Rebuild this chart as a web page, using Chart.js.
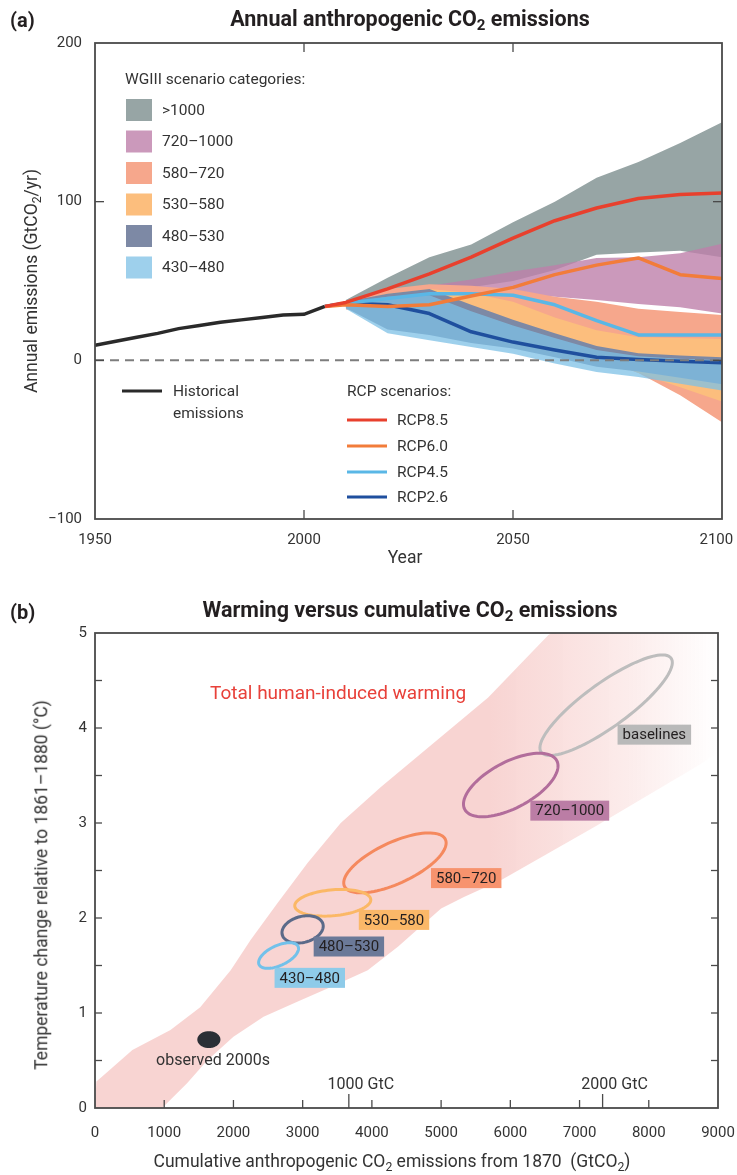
<!DOCTYPE html>
<html><head><meta charset="utf-8">
<script src="https://cdn.jsdelivr.net/npm/chart.js@4.4.1/dist/chart.umd.min.js"></script>
<style>
html,body{margin:0;padding:0;background:#fff;}
#wrap{position:relative;width:737px;height:1175px;overflow:hidden;font-family:Roboto,"Liberation Sans",Arial,sans-serif;color:#231f20;}
canvas{position:absolute;left:0;}
.t{position:absolute;white-space:nowrap;transform:translate(-50%,-50%);line-height:1;}
.title{font-size:21.5px;font-weight:700;}
.panel{font-size:20px;font-weight:700;transform:translate(0,-50%);}
.ax{font-size:17.5px;color:#333;}
.rot{transform:translate(-50%,-50%) rotate(-90deg);}
sub{font-size:70%;vertical-align:-0.28em;line-height:0;}
</style></head>
<body><div id="wrap">
<canvas id="cA" width="737" height="580" style="top:0"></canvas>
<canvas id="cB" width="737" height="585" style="top:590px"></canvas>
<div class="t panel" style="left:10px;top:20px">(a)</div>
<div class="t title" style="left:410px;top:19px">Annual anthropogenic CO<sub>2</sub> emissions</div>
<div class="t ax rot" style="left:32px;top:281px">Annual emissions (GtCO<sub>2</sub>/yr)</div>
<div class="t ax" style="left:405px;top:558px">Year</div>
<div class="t panel" style="left:10px;top:612px">(b)</div>
<div class="t title" style="left:410px;top:610px">Warming versus cumulative CO<sub>2</sub> emissions</div>
<div class="t ax rot" style="left:42px;top:885px">Temperature change relative to 1861–1880 (°C)</div>
<div class="t ax" style="left:392px;top:1162px">Cumulative anthropogenic CO<sub>2</sub> emissions from 1870&nbsp; (GtCO<sub>2</sub>)</div>
</div>
<script>
// ---------------- DATA: panel (a) ----------------
const histYears  = [1950, 1955, 1960, 1965, 1970, 1975, 1980, 1985, 1990, 1995, 2000, 2005];
const histValues = [9.5, 12, 14.5, 17, 20, 22, 24, 25.5, 27, 28.5, 29, 34];

const rcpYears = [2005, 2010, 2020, 2030, 2040, 2050, 2060, 2070, 2080, 2090, 2100];
const rcp85 = [34, 36.5, 45, 54.5, 65, 77, 88, 96, 102, 104.5, 105.5];
const rcp60 = [34, 35, 34, 35, 40.5, 46, 54, 60, 64.5, 54, 51.5];
const rcp45 = [34, 36, 39, 42, 42, 41, 35, 25, 16, 16, 16];
const rcp26 = [34, 36, 35, 29.5, 18, 11.5, 6.5, 2, 0.5, -0.5, -1.5];

const bandYears = [2010, 2020, 2030, 2040, 2050, 2060, 2070, 2080, 2090, 2100];
const catGt1000Upper = [38, 52, 65, 73, 87, 100, 115, 125, 137, 150];
const catGt1000Lower = [35, 38, 42, 46, 50, 57, 66.5, 68, 69, 65];
const cat720Upper = [37, 42, 47, 51, 56, 60, 64.5, 65, 67.5, 73.5];
const cat720Lower = [34, 37, 40, 42, 42, 40, 38, 35.5, 33.5, 29.5];
const cat580Upper = [36, 45, 48, 47, 45, 40, 37, 32.5, 30.5, 28.5];
const cat580Lower = [32, 30, 26, 20, 14, 8, 2, -8, -22, -39];
const cat530Upper = [36, 42, 45, 42.5, 37, 27, 19, 14.5, 14, 13.5];
const cat530Lower = [33, 30, 26, 20, 13, 7, 2, -8, -17, -26];
const cat480Upper = [37, 42, 45, 35, 25.5, 17, 9, 4.5, 3, 2];
const cat480Lower = [33, 19.5, 16, 11, 7.5, 2, -4, -7, -11, -15];
const cat430Upper = [36, 40, 41, 31, 22, 14, 6.5, 2.5, 1, 0];
const cat430Lower = [32.5, 17, 12.6, 8.4, 4.2, -2, -7.3, -10.5, -14.7, -19];

const categoryLabels = ['>1000', '720–1000', '580–720', '530–580', '480–530', '430–480'];
const rcpLabels = ['RCP8.5', 'RCP6.0', 'RCP4.5', 'RCP2.6'];

// ---------------- DATA: panel (b) ----------------
const plumeX = [0, 20, 100, 540, 1090, 1520, 1960, 2250, 2640, 3070, 3550, 4130, 5680, 6550, 6600, 9000, 9000, 8770, 7220, 5870, 5330, 5000, 4380, 3940, 3400, 2930, 2435, 2000, 1620, 1330, 970, 0];
const plumeY = [0, 0.28, 0.33, 0.61, 0.82, 1.06, 1.45, 1.77, 2.16, 2.58, 3.0, 3.38, 4.32, 4.98, 5.0, 5.0, 3.75, 3.63, 2.96, 2.4, 2.22, 2.1, 1.7, 1.45, 1.27, 1.12, 0.96, 0.75, 0.5, 0.26, 0, 0];

const ellipseLabels = ['baselines', '720–1000', '580–720', '530–580', '480–530', '430–480'];
const ellipseCX = [7384, 6006, 4333, 3435, 2999, 2652];
const ellipseCY = [4.24, 3.40, 2.58, 2.16, 1.88, 1.605];
const ellipseMajorDX = [938, 665, 729, 549, 294, 282];
const ellipseMajorDY = [0.495, 0.257, 0.247, 0.035, 0.057, 0.096];
const ellipseMinorDX = [187, 156, 126, 16, 49, 61];
const ellipseMinorDY = [-0.187, -0.214, -0.196, -0.136, -0.132, -0.095];
const labelAnchorX = [7549, 6289, 4854, 3811, 3159, 2594];
const labelAnchorY = [3.93, 3.13, 2.42, 1.98, 1.70, 1.37];

const observedX = [1645];
const observedY = [0.72];
const observedHalfX = [167];
const observedHalfY = [0.089];

const gtcTickValues = [3667, 7333];
const gtcTickLabels = ['1000 GtC', '2000 GtC'];

// ---------------- STYLE ----------------
const FONT = 'Roboto, "Liberation Sans", Arial, sans-serif';
Chart.defaults.font.family = FONT;
const TXT = '#333333';
const AXIS = '#4a4a4a';
const catColors = ['rgb(151,165,165)', 'rgba(190,128,170,0.8)', 'rgb(246,167,140)', 'rgb(252,190,125)', 'rgb(125,137,165)', 'rgba(125,192,230,0.75)'];
const rcpColors = ['#e8402d', '#f27c3a', '#5ab7e6', '#1f4f9e'];
const histColor = '#2a2a2a';
const ellipseStroke = ['#bdbdbd', '#b26d9b', '#f5895e', '#fbb866', '#5b6a89', '#72c1ea'];
const ellipseBox = ['#b9b9b9', '#bb7da5', '#f7936e', '#fbb868', '#6b7998', '#8ecbe9'];

const toXY = (xs, ys) => xs.map((x, i) => ({x, y: ys[i]}));

// ---------------- CHART (a) ----------------
const bandSets = [
  [catGt1000Lower, catGt1000Upper],
  [cat720Lower, cat720Upper],
  [cat580Lower, cat580Upper],
  [cat530Lower, cat530Upper],
  [cat480Lower, cat480Upper],
  [cat430Lower, cat430Upper]
];
const dsA = [];
bandSets.forEach((pair, i) => {
  const ord = 100 - i * 10;
  dsA.push({label: categoryLabels[i] + ' low', data: toXY(bandYears, pair[0]), borderWidth: 0, pointRadius: 0, fill: false, order: ord});
  dsA.push({label: categoryLabels[i], data: toXY(bandYears, pair[1]), borderWidth: 0, pointRadius: 0, fill: '-1', backgroundColor: catColors[i], order: ord});
});
dsA.push({label: 'Historical', data: toXY(histYears, histValues), borderColor: histColor, borderWidth: 3.5, pointRadius: 0, fill: false, order: 6});
[rcp26, rcp45, rcp60, rcp85].forEach((arr, k) => {
  const idx = 3 - k;
  dsA.push({label: rcpLabels[idx], data: toXY(rcpYears, arr), borderColor: rcpColors[idx], borderWidth: 3.5, pointRadius: 0, fill: false, order: 5 - k, borderJoinStyle: 'round'});
});

function tickLine(ctx, x1, y1, x2, y2) { ctx.beginPath(); ctx.moveTo(x1, y1); ctx.lineTo(x2, y2); ctx.stroke(); }

const decorA = {
  id: 'decorA',
  afterDatasetsDraw(chart) {
    const {ctx, chartArea: a, scales: {x, y}} = chart;
    ctx.save();
    const y0 = y.getPixelForValue(0);
    ctx.strokeStyle = '#7d7d7d'; ctx.lineWidth = 2; ctx.setLineDash([9, 6]);
    tickLine(ctx, a.left, y0, a.right, y0);
    ctx.setLineDash([]);
    ctx.strokeStyle = AXIS; ctx.lineWidth = 1.3;
    x.ticks.forEach(t => {
      if (t.value <= x.min || t.value >= x.max) return;
      const p = x.getPixelForValue(t.value);
      tickLine(ctx, p, a.top, p, a.top + 9);
      tickLine(ctx, p, a.bottom, p, a.bottom - 9);
    });
    y.ticks.forEach(t => {
      if (t.value <= y.min || t.value >= y.max) return;
      const p = y.getPixelForValue(t.value);
      tickLine(ctx, a.left, p, a.left + 9, p);
      tickLine(ctx, a.right, p, a.right - 9, p);
    });
    ctx.lineWidth = 1.8;
    ctx.strokeRect(a.left, a.top, a.right - a.left, a.bottom - a.top);

    // legends
    ctx.font = '15.5px ' + FONT; ctx.fillStyle = TXT; ctx.textBaseline = 'middle'; ctx.textAlign = 'left';
    ctx.fillText('WGIII scenario categories:', 125, 80);
    const rowY = [110, 141.5, 173, 204.5, 236, 267.5];
    categoryLabels.forEach((lab, i) => {
      ctx.fillStyle = catColors[i];
      ctx.fillRect(126, rowY[i] - 11, 26, 22);
      ctx.fillStyle = TXT;
      ctx.fillText(lab, 162, rowY[i] + 1);
    });
    ctx.strokeStyle = histColor; ctx.lineWidth = 3;
    tickLine(ctx, 122, 391, 162, 391);
    ctx.fillText('Historical', 173, 392);
    ctx.fillText('emissions', 173, 414);
    ctx.fillText('RCP scenarios:', 347, 392);
    const rcpRowY = [420, 446, 472, 497];
    rcpLabels.forEach((lab, i) => {
      ctx.strokeStyle = rcpColors[i]; ctx.lineWidth = 3;
      tickLine(ctx, 347, rcpRowY[i], 387, rcpRowY[i]);
      ctx.fillText(lab, 397, rcpRowY[i] + 1);
    });
    ctx.restore();
  }
};

new Chart(document.getElementById('cA'), {
  type: 'line',
  data: {datasets: dsA},
  options: {
    responsive: false, animation: false, events: [],
    layout: {padding: {top: 43, right: 15, left: 0, bottom: 21}},
    plugins: {legend: {display: false}, tooltip: {enabled: false}},
    elements: {line: {tension: 0}},
    scales: {
      x: {type: 'linear', min: 1950, max: 2100,
          ticks: {stepSize: 50, padding: 12, color: TXT, font: {size: 15}, maxRotation: 0,
                  callback: (v, i, arr) => i === arr.length - 1 ? String(v) + '\u2002 ' : String(v)},
          grid: {display: false, drawTicks: false}, border: {display: false},
          afterFit: s => { s.height = 40; s.paddingLeft = 0; s.paddingRight = 0; }},
      y: {type: 'linear', min: -100, max: 200,
          ticks: {stepSize: 100, padding: 13, color: TXT, font: {size: 15}, callback: v => v < 0 ? '−' + Math.abs(v) : String(v)},
          grid: {display: false, drawTicks: false}, border: {display: false},
          afterFit: s => { s.width = 95; s.paddingTop = 0; s.paddingBottom = 0; }}
    }
  },
  plugins: [decorA]
});

// ---------------- CHART (b) ----------------
const PINK = [248, 212, 210];
const dsB = [{
  label: 'Total human-induced warming',
  data: toXY(plumeX, plumeY),
  borderWidth: 0, pointRadius: 0, fill: 'shape',
  backgroundColor: (c) => {
    const ch = c.chart;
    if (!ch.chartArea || !ch.scales.x) return `rgb(${PINK})`;
    const xs = ch.scales.x;
    const g = ch.ctx.createLinearGradient(xs.getPixelForValue(5700), 0, xs.getPixelForValue(9000), 0);
    g.addColorStop(0, `rgba(${PINK},1)`);
    g.addColorStop(0.6, `rgba(${PINK},0.45)`);
    g.addColorStop(1, `rgba(${PINK},0)`);
    return g;
  }
}];

function ellipsePath(ctx, x, y, cx, cy, ax, ay, bx, by) {
  ctx.beginPath();
  for (let k = 0; k <= 90; k++) {
    const t = k / 90 * 2 * Math.PI;
    const px = x.getPixelForValue(cx + ax * Math.cos(t) + bx * Math.sin(t));
    const py = y.getPixelForValue(cy + ay * Math.cos(t) + by * Math.sin(t));
    if (k === 0) ctx.moveTo(px, py); else ctx.lineTo(px, py);
  }
  ctx.closePath();
}

const decorB = {
  id: 'decorB',
  afterDatasetsDraw(chart) {
    const {ctx, chartArea: a, scales: {x, y}} = chart;
    ctx.save();
    ctx.textBaseline = 'middle';
    ctx.font = '19px ' + FONT; ctx.fillStyle = '#e8413a'; ctx.textAlign = 'left';
    ctx.fillText('Total human-induced warming', 210, 104);
    ellipseLabels.forEach((lab, i) => {
      ctx.strokeStyle = ellipseStroke[i]; ctx.lineWidth = 3;
      ellipsePath(ctx, x, y, ellipseCX[i], ellipseCY[i], ellipseMajorDX[i], ellipseMajorDY[i], ellipseMinorDX[i], ellipseMinorDY[i]);
      ctx.stroke();
    });
    ctx.font = '15px ' + FONT;
    ellipseLabels.forEach((lab, i) => {
      const w = ctx.measureText(lab).width + 10;
      const lx = x.getPixelForValue(labelAnchorX[i]);
      const ly = y.getPixelForValue(labelAnchorY[i]);
      ctx.fillStyle = ellipseBox[i];
      ctx.fillRect(lx, ly - 10, w, 20);
      ctx.fillStyle = '#231f20';
      ctx.fillText(lab, lx + 5, ly + 1);
    });
    ctx.fillStyle = '#2b2f36';
    ellipsePath(ctx, x, y, observedX[0], observedY[0], observedHalfX[0], 0, 0, observedHalfY[0]);
    ctx.fill();
    ctx.fillStyle = TXT; ctx.font = '16px ' + FONT; ctx.textAlign = 'center';
    ctx.fillText('observed 2000s', 213, 471);
    ctx.strokeStyle = AXIS; ctx.lineWidth = 1.3;
    x.ticks.forEach(t => {
      if (t.value <= x.min || t.value >= x.max) return;
      const p = x.getPixelForValue(t.value);
      tickLine(ctx, p, a.bottom, p, a.bottom - 8);
    });
    y.ticks.forEach(t => {
      if (t.value <= y.min || t.value >= y.max) return;
      const p = y.getPixelForValue(t.value);
      tickLine(ctx, a.left, p, a.left + 7, p);
      tickLine(ctx, a.right, p, a.right - 7, p);
    });
    gtcTickValues.forEach((v, i) => {
      const p = x.getPixelForValue(v);
      tickLine(ctx, p, a.bottom, p, a.bottom - 14);
      ctx.fillStyle = TXT; ctx.font = '16px ' + FONT; ctx.textAlign = 'center';
      ctx.fillText(gtcTickLabels[i], p + 12, a.bottom - 23);
    });
    ctx.lineWidth = 1.8;
    ctx.strokeRect(a.left, a.top, a.right - a.left, a.bottom - a.top);
    ctx.restore();
  }
};

new Chart(document.getElementById('cB'), {
  type: 'line',
  data: {datasets: dsB},
  options: {
    responsive: false, animation: false, events: [],
    layout: {padding: {top: 43, right: 19, left: 0, bottom: 27}},
    plugins: {legend: {display: false}, tooltip: {enabled: false}},
    elements: {line: {tension: 0}},
    scales: {
      x: {type: 'linear', min: 0, max: 9000,
          ticks: {stepSize: 1000, padding: 16, color: TXT, font: {size: 15}, maxRotation: 0, callback: v => String(v)},
          grid: {display: false, drawTicks: false}, border: {display: false},
          afterFit: s => { s.height = 40; s.paddingLeft = 0; s.paddingRight = 0; }},
      y: {type: 'linear', min: 0, max: 5,
          ticks: {stepSize: 0.5, padding: 8, color: TXT, font: {size: 15}, callback: v => Number.isInteger(v) ? String(v) : ''},
          grid: {display: false, drawTicks: false}, border: {display: false},
          afterFit: s => { s.width = 95; s.paddingTop = 0; s.paddingBottom = 0; }}
    }
  },
  plugins: [decorB]
});
</script>
</body></html>
